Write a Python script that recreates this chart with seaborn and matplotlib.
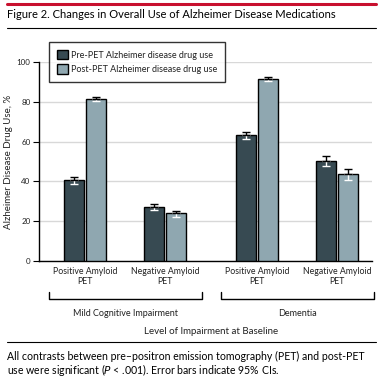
import matplotlib
matplotlib.use("Agg")
import matplotlib.pyplot as plt
import seaborn as sns
import pandas as pd
import numpy as np
from matplotlib.lines import Line2D

sns.set_theme(style="white")
FONT = ['Lato', 'DejaVu Sans']
plt.rcParams['font.family'] = FONT

# ---- data ----
categories = ["Positive Amyloid\nPET", "Negative Amyloid\nPET", "Positive Amyloid\nPET", "Negative Amyloid\nPET"]
x_pos = [0.0, 1.0, 2.15, 3.15]
groups = ["Mild Cognitive Impairment", "Dementia"]
series = ["Pre-PET Alzheimer disease drug use", "Post-PET Alzheimer disease drug use"]
pre_vals = [40.5, 27.0, 63.2, 50.1]
pre_lo = [38.7, 25.5, 61.3, 47.6]
pre_hi = [42.0, 28.4, 64.8, 52.6]
post_vals = [81.3, 24.0, 91.4, 43.6]
post_lo = [80.3, 22.0, 90.4, 40.7]
post_hi = [82.6, 25.2, 92.3, 46.3]
yticks = [0, 20, 40, 60, 80, 100]

df = pd.DataFrame({
    "x": x_pos + x_pos,
    "val": pre_vals + post_vals,
    "series": [series[0]] * 4 + [series[1]] * 4,
})

W, H = 381, 382
fig = plt.figure(figsize=(W / 100, H / 100), dpi=100)
renderer = fig.canvas.get_renderer()


def fit(text, target_px):
    t = fig.text(0, 0, text, fontsize=10)
    w = t.get_window_extent(renderer).width
    t.remove()
    return 10 * target_px / w


fs_title = fit("Figure 2. Changes in Overall Use of Alzheimer Disease Medications", 326)
fs_foot = fit("All contrasts between pre\u2013positron emission tomography (PET) and post-PET", 357)
fs_tick = fit("Positive Amyloid", 65)
fs_leg = fit(series[0], 143)
fs_grp = fit(groups[0], 106)
fs_xl = fit("Level of Impairment at Baseline", 135)
fs_yl = fit("Alzheimer Disease Drug Use, %", 134)
fs_yt = fit("100", 14)

ax = fig.add_axes([39 / W, 1 - 261 / H, (372 - 39) / W, (261 - 62) / H])

dark = "#324c57"
light = "#8aa9b5"
txt = "#222222"
sns.barplot(data=df, x="x", y="val", hue="series", hue_order=series,
            palette=[dark, light], native_scale=True, width=0.55, gap=0.09,
            edgecolor="black", linewidth=1, errorbar=None, ax=ax, legend=True, zorder=3)

# error bars: lower part white (inside bar), upper part black
bw = 0.1375
for vals, lo, hi, off in [(pre_vals, pre_lo, pre_hi, -bw), (post_vals, post_lo, post_hi, bw)]:
    xs = np.array(x_pos) + off
    v = np.array(vals)
    ax.errorbar(xs, v, yerr=[v - np.array(lo), np.zeros(4)], fmt="none",
                ecolor="white", elinewidth=1, capsize=2.6, capthick=1, zorder=4)
    ax.errorbar(xs, v, yerr=[np.zeros(4), np.array(hi) - v], fmt="none",
                ecolor="black", elinewidth=1, capsize=2.6, capthick=1, zorder=5)

ax.set_xlim(-0.575, 3.5875)
ax.set_ylim(0, 100)
ax.set_yticks(yticks)
ax.set_yticklabels([str(t) for t in yticks], fontsize=fs_yt, color=txt)
ax.set_xticks(x_pos)
ax.set_xticklabels(categories, fontsize=fs_tick, color=txt, linespacing=1.15)
ax.tick_params(axis="y", length=4, width=0.8, color="black", pad=2, left=True)
ax.tick_params(axis="x", length=0, pad=4)
ax.yaxis.grid(True, color="#d8d8d8", linewidth=1)
ax.set_axisbelow(True)
for s in ["top", "right"]:
    ax.spines[s].set_visible(False)
for s in ["left", "bottom"]:
    ax.spines[s].set_color("black")
    ax.spines[s].set_linewidth(1)
ax.set_xlabel("")
ax.set_ylabel("Alzheimer Disease Drug Use, %", fontsize=fs_yl, color=txt)
ax.yaxis.set_label_coords(-(39 - 13.5) / (372 - 39), 0.5)

leg = ax.legend(loc="upper left", bbox_to_anchor=(49 / W, 1 - 42 / H), bbox_transform=fig.transFigure,
                fontsize=fs_leg, frameon=True, fancybox=False, edgecolor="black",
                handlelength=1.25, handleheight=1.25, handletextpad=0.35, borderpad=0.85,
                labelspacing=0.5, borderaxespad=0)
leg.get_frame().set_linewidth(1)
leg.set_zorder(10)
for h in leg.legend_handles:
    h.set_edgecolor("black")
    h.set_linewidth(1)
for t in leg.get_texts():
    t.set_color(txt)


def fx(px):
    return px / W


def fy(py):
    return 1 - py / H


# brackets
for (x0, x1), label in zip([(49, 202), (221, 374)], groups):
    fig.add_artist(Line2D([fx(x0), fx(x0), fx(x1), fx(x1)], [fy(292), fy(299), fy(299), fy(292)],
                          color="black", linewidth=1))
    fig.text(fx((x0 + x1) / 2), fy(314), label, ha="center", va="center", fontsize=fs_grp, color=txt)

fig.text(fx(211), fy(332), "Level of Impairment at Baseline", ha="center", va="center",
         fontsize=fs_xl, color=txt)

# header / footer
fig.add_artist(Line2D([fx(7), fx(376)], [fy(3.5), fy(3.5)], color="#c8102e", linewidth=2.2))
fig.text(fx(7), fy(15), "Figure 2. Changes in Overall Use of Alzheimer Disease Medications",
         ha="left", va="center", fontsize=fs_title, color="black")
fig.add_artist(Line2D([fx(7), fx(376)], [fy(28), fy(28)], color="black", linewidth=0.8))
fig.add_artist(Line2D([fx(7), fx(376)], [fy(342), fy(342)], color="black", linewidth=0.8))
fig.text(fx(7), fy(356), "All contrasts between pre\u2013positron emission tomography (PET) and post-PET",
         ha="left", va="center", fontsize=fs_foot, color="black")
fig.text(fx(7), fy(369.5), "use were significant ($\\it{P}$ < .001). Error bars indicate 95% CIs.",
         ha="left", va="center", fontsize=fs_foot, color="black")

fig.savefig("out.png", dpi=100)
